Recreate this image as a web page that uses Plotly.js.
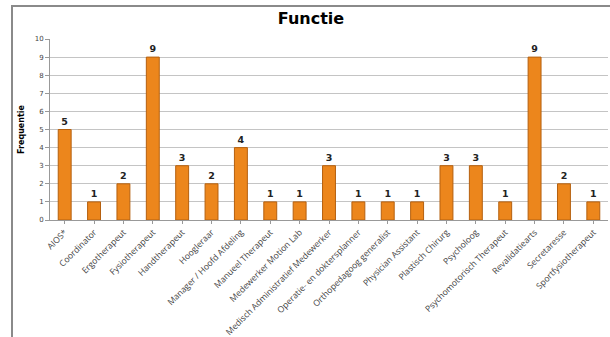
<!DOCTYPE html>
<html><head><meta charset="utf-8">
<script src="https://cdn.plot.ly/plotly-3.0.1.min.js"></script>
<style>
html,body{margin:0;padding:0;background:#fff;}
#wrap{position:relative;width:610px;height:337px;overflow:hidden;}
#frame{position:absolute;left:11px;top:5px;width:620px;height:360px;border:2px solid #8a8a8a;box-sizing:border-box;pointer-events:none;}
#chart{position:absolute;left:0;top:0;width:610px;height:337px;}
</style></head>
<body><div id="wrap"><div id="chart"></div><div id="frame"></div></div>
<script>
const categories = ["AIOS*","Coordinator","Ergotherapeut","Fysiotherapeut","Handtherapeut","Hoogleraar","Manager / Hoofd Afdeling","Manueel Therapeut","Medewerker Motion Lab","Medisch Administratief Medewerker","Operatie- en doktersplanner","Orthopedagoog generalist","Physician Assistant","Plastisch Chirurg","Psycholoog","Psychomotorisch Therapeut","Revalidatiearts","Secretaresse","Sportfysiotherapeut"];
const frequentie = [5,1,2,9,3,2,4,1,1,3,1,1,1,3,3,1,9,2,1];
const yTicks = [0,1,2,3,4,5,6,7,8,9,10];

Plotly.newPlot('chart', [{
  type:'bar', x:categories, y:frequentie,
  marker:{color:'#EC861C', line:{color:'#B5600F', width:1}},
  text:frequentie.map(String), textposition:'outside', cliponaxis:false,
  textfont:{family:'DejaVu Sans', size:9.5, color:'#222', weight:'bold'},
  width:0.44
}], {
  width:610, height:337,
  margin:{l:50, r:2, t:39, b:117},
  paper_bgcolor:'#fff', plot_bgcolor:'#fff',
  title:{text:'<b>Functie</b>', x:311/610, xref:'container', xanchor:'center', y:1-18/337, yref:'container', yanchor:'middle', font:{family:'DejaVu Sans', size:16, color:'#000'}},
  xaxis:{tickangle:-45, tickfont:{family:'Open Sans', size:8.6, color:'#444'}, showline:true, linecolor:'#999', ticks:'outside', ticklen:3, tickcolor:'#999', automargin:false},
  yaxis:{range:[0,10], tickvals:yTicks, tickfont:{family:'DejaVu Sans', size:7, color:'#444'}, gridcolor:'#c4c4c4', showline:true, linecolor:'#999', ticks:'outside', ticklen:4, tickcolor:'#999', zeroline:false, automargin:false,
    title:{text:'<b>Frequentie</b>', font:{family:'DejaVu Sans', size:8, color:'#000'}, standoff:8}},
  showlegend:false
}, {displayModeBar:false, staticPlot:true});
</script></body></html>
